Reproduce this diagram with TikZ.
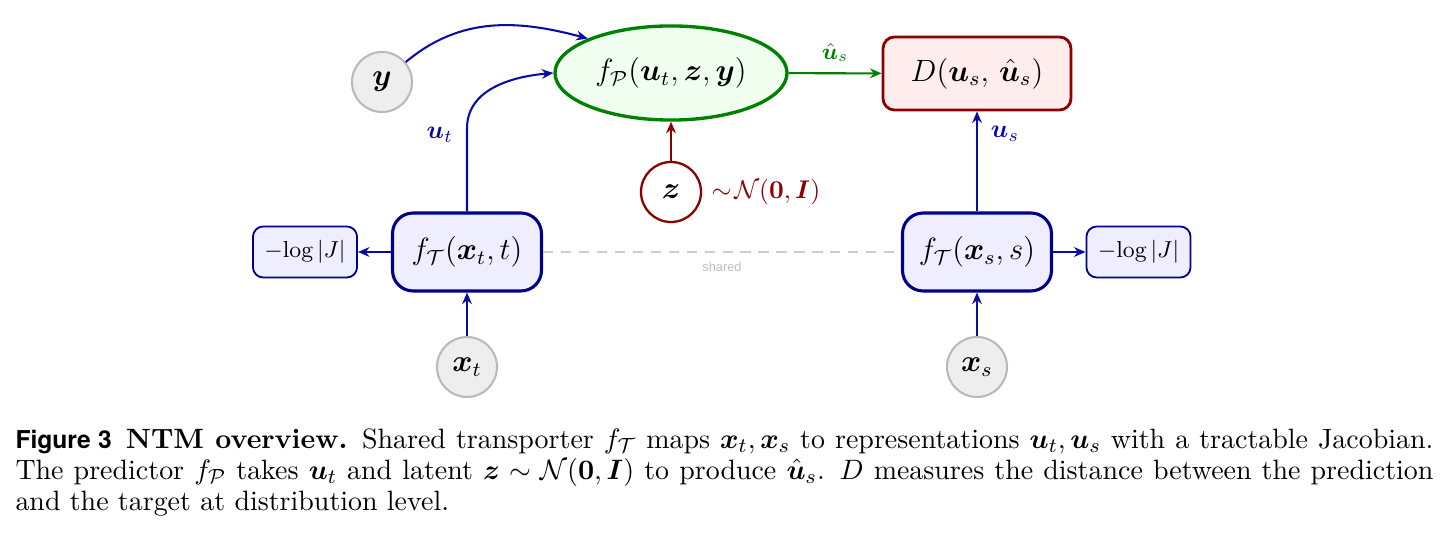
\documentclass[tikz,border=0pt]{standalone}
\usepackage{amsmath,bm}
\usepackage{fontspec}
\newfontfamily\figfont{TeX Gyre Heros}
\newfontfamily\sharedfont{Liberation Sans}
\usetikzlibrary{arrows.meta,shapes.geometric}
\definecolor{arrblue}{RGB}{10,10,165}
\definecolor{navyb}{RGB}{0,0,139}
\definecolor{lav}{RGB}{238,238,255}
\definecolor{dgreen}{RGB}{0,128,0}
\definecolor{lgreen}{RGB}{240,254,240}
\definecolor{dred}{RGB}{139,0,0}
\definecolor{lpink}{RGB}{255,236,236}
\definecolor{cgray}{RGB}{238,238,238}
\definecolor{cgrayb}{RGB}{185,185,185}
\definecolor{dashg}{RGB}{205,205,205}
\definecolor{sharedg}{RGB}{190,190,190}
\tikzset{
  inputc/.style={circle, draw=cgrayb, fill=cgray, line width=0.8pt, minimum size=23.4pt, inner sep=0pt, font=\large},
  latentc/.style={circle, draw=dred, fill=white, line width=0.9pt, minimum size=23.4pt, inner sep=0pt, font=\large},
  predictor/.style={ellipse, draw=dgreen, fill=lgreen, line width=1.3pt, minimum width=90.5pt, minimum height=36.7pt, inner sep=0pt, font=\large},
  distbox/.style={rectangle, rounded corners=4.5pt, draw=dred, fill=lpink, line width=1.1pt, minimum width=73.3pt, minimum height=28.5pt, inner sep=0pt, font=\large},
  transbox/.style={rectangle, rounded corners=8pt, draw=navyb, fill=lav, line width=1.2pt, minimum width=58.1pt, minimum height=30.4pt, inner sep=0pt, font=\large},
  logbox/.style={rectangle, rounded corners=4pt, draw=navyb, fill=lav, line width=0.7pt, minimum width=40.6pt, minimum height=19.9pt, inner sep=0pt, font=\small},
  arr/.style={line width=0.8pt, -{Stealth[length=4.5pt,width=3.8pt]}},
}
\begin{document}
\begin{tikzpicture}[x=0.39pt, y=0.39pt]
\useasboundingbox (0,0) rectangle (1448,534);
% nodes
\node[inputc] (y) at (382,452) {$\bm{y}$};
\node[predictor] (fp) at (671,461) {$f_{\mathcal{P}}(\bm{u}_t, \bm{z}, \bm{y})$};
\node[distbox] (D) at (977,460.5) {$D(\bm{u}_s,\, \hat{\bm{u}}_s)$};
\node[latentc] (z) at (671,342) {$\bm{z}$};
\node[anchor=west, text=dred, inner sep=0pt] (nlab) at (711,342) {$\sim\!\mathcal{N}(\bm{0}, \bm{I})$};
\node[transbox] (ftt) at (467,282) {$f_{\mathcal{T}}(\bm{x}_t, t)$};
\node[logbox] (logl) at (305,282) {$-\!\log|J|$};
\node[transbox] (fts) at (977,282) {$f_{\mathcal{T}}(\bm{x}_s, s)$};
\node[logbox] (logr) at (1138.5,282) {$-\!\log|J|$};
\node[inputc] (xt) at (467,167) {$\bm{x}_t$};
\node[inputc] (xs) at (977,167) {$\bm{x}_s$};
\node[text=sharedg, font=\sharedfont\fontsize{5}{6}\selectfont, inner sep=0pt] (shl) at (722,267) {shared};
% connectors
\draw[dashg, line width=0.6pt, dash pattern=on 4pt off 3pt] (ftt.east) -- (fts.west);
\draw[arr, arrblue] (y) to[out=40, in=165] (fp.north west);
\draw[arr, arrblue] (ftt.north) -- node[pos=0.92, left, text=arrblue, inner sep=5pt] (utl) {$\bm{u}_t$} ++(0,83) to[out=90, in=185] (fp.west);
\draw[arr, dred] (z) -- (fp);
\draw[arr, dgreen] (fp) -- node[above, text=dgreen, font=\small, inner sep=4pt] (ushl) {$\hat{\bm{u}}_s$} (D);
\draw[arr, arrblue] (fts) -- node[pos=0.78, right, text=arrblue, inner sep=5pt] (usl) {$\bm{u}_s$} (D);
\draw[arr, arrblue] (ftt) -- (logl);
\draw[arr, arrblue] (fts) -- (logr);
\draw[arr, arrblue] (xt) -- (ftt);
\draw[arr, arrblue] (xs) -- (fts);
% caption
\node[anchor=north west, text width=553pt, align=justify, inner sep=0pt, font=\fontsize{10.9}{12.1}\selectfont] (cap) at (15,106) {%
{\figfont\bfseries\fontsize{9.6}{12.1}\selectfont Figure 3}\enspace \textbf{NTM overview.} Shared transporter $f_{\mathcal{T}}$ maps $\bm{x}_t, \bm{x}_s$ to representations $\bm{u}_t, \bm{u}_s$ with a tractable Jacobian.\linebreak
The predictor $f_{\mathcal{P}}$ takes $\bm{u}_t$ and latent $\bm{z} \sim \mathcal{N}(\bm{0}, \bm{I})$ to produce $\hat{\bm{u}}_s$. $D$ measures the distance between the prediction\linebreak
and the target at distribution level.};
\end{tikzpicture}
\end{document}
